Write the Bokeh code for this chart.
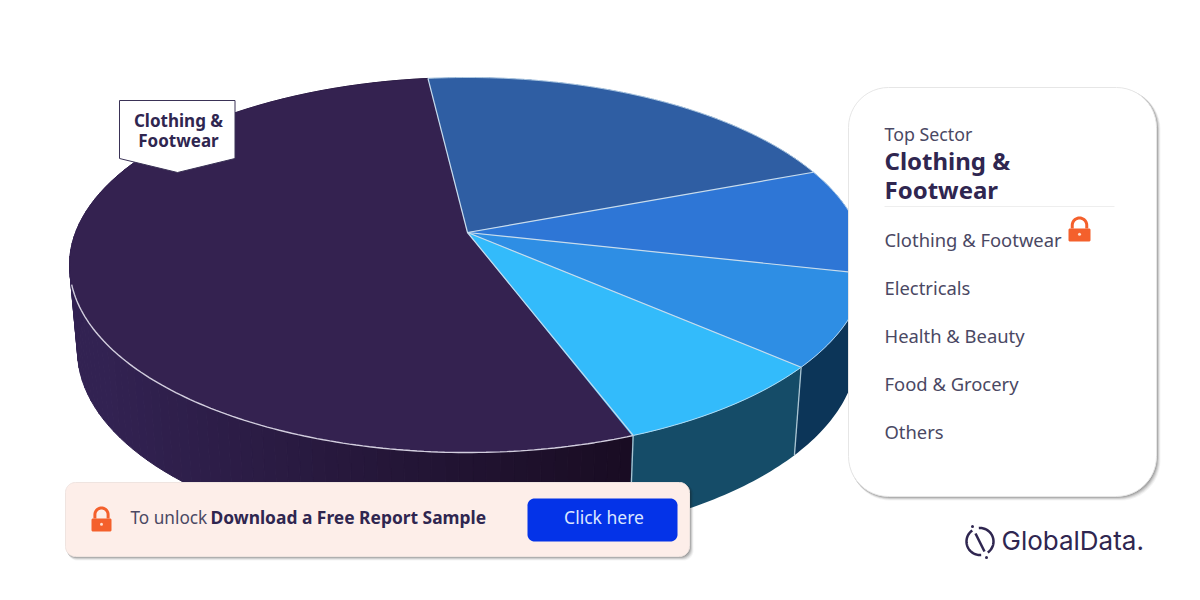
import math
from bokeh.plotting import figure
from bokeh.models import Range1d
from bokeh.core.properties import value
from bokeh.embed import file_html
from bokeh.resources import INLINE

categories = ["Clothing & Footwear", "Electricals", "Health & Beauty", "Food & Grocery", "Others"]
shares = [55.25, 18.35, 8.97, 8.44, 9.03]
top_colors = ["#342250", "#2f5ea3", "#2e76d6", "#2e8ee4", "#33bbfb"]
side_colors = [None, "#0c3558", "#0c3558", "#0c3558", "#154c68"]
start_angle = 155.4
title_small = "Top Sector"
title_lines = ["Clothing &", "Footwear"]
label_lines = ["Clothing &", "Footwear"]

FONT = "Noto Sans"
DARK = "#2f2650"
GREY = "#4a4863"
LOCK = "#f4602c"

p = figure(width=1184, height=584, x_range=Range1d(1, 1185), y_range=Range1d(584, 0),
           output_backend="svg", toolbar_location=None, min_border=0)
p.xaxis.visible = False
p.yaxis.visible = False
p.grid.visible = False
p.outline_line_color = None
p.background_fill_color = "white"
p.border_fill_color = "white"

CX, CY, RX, RY = 468.0, 264.5, 398.0, 187.5
BCY, BRX, BRY = 350.0, 390.0, 192.0
AX, AY = 468.0, 232.0


def label(x, y, s, size, color, bold=False, align="left", font=FONT):
    # y is the wanted baseline; the renderer sets alphabetic text about 0.42 em low
    p.text([x], [y - 0.42 * size], text=[s], text_font=value(font), text_font_size=f"{size}px",
           text_font_style="bold" if bold else "normal", text_align=align,
           text_baseline="alphabetic", text_color=color)


def top_pt(t):
    r = math.radians(t)
    return CX + RX * math.sin(r), CY - RY * math.cos(r)


def bot_pt(t):
    r = math.radians(t)
    return CX + BRX * math.sin(r), BCY - BRY * math.cos(r)


def arc_angles(a, b, step=1.0):
    n = max(2, int(abs(b - a) / step) + 1)
    return [a + (b - a) * i / n for i in range(n + 1)]


def mix(c1, c2, f):
    f = max(0.0, min(1.0, f))
    a = [int(c1[i:i + 2], 16) for i in (1, 3, 5)]
    b = [int(c2[i:i + 2], 16) for i in (1, 3, 5)]
    return "#%02x%02x%02x" % tuple(round(a[i] + (b[i] - a[i]) * f) for i in range(3))


def rrect(x0, y0, x1, y1, r):
    xs, ys = [], []
    for cx, cy, a0 in ((x1 - r, y0 + r, -90), (x1 - r, y1 - r, 0), (x0 + r, y1 - r, 90), (x0 + r, y0 + r, 180)):
        for i in range(13):
            a = math.radians(a0 + 90 * i / 12)
            xs.append(cx + r * math.cos(a))
            ys.append(cy + r * math.sin(a))
    return xs, ys


def card(x0, y0, x1, y1, r, fill, edge):
    for d, al in ((5, .05), (4, .07), (3, .10), (2, .14), (1, .18)):
        xs, ys = rrect(x0 + d * .4, y0 + d * .4, x1 + d * .8, y1 + d * .8, r)
        p.patch(xs, ys, fill_color="#202020", fill_alpha=al, line_color=None)
    xs, ys = rrect(x0, y0, x1, y1, r)
    p.patch(xs, ys, fill_color=fill, line_color=edge, line_width=1)


def lock(cx, top, w, h, hole):
    body = top + h * .48
    xs, ys = rrect(cx - w / 2, body, cx + w / 2, top + h, 1.5)
    p.patch(xs, ys, fill_color=LOCK, line_color=None)
    R = w * .33
    ang = [180 + 180 * i / 24 for i in range(25)]
    ax = [cx + R * math.cos(math.radians(a)) for a in ang]
    ay = [top + R + 1.5 + R * math.sin(math.radians(a)) for a in ang]
    p.line([ax[0]] + ax + [ax[-1]], [body] + ay + [body], line_color=LOCK, line_width=3)
    p.circle([cx], [body + (top + h - body) * .45], radius=1.5, fill_color=hole, line_color=None)


# pie ------------------------------------------------------------------
bounds = [start_angle]
for s in shares:
    bounds.append(bounds[-1] + s * 3.6)

for i, s in enumerate(shares):
    a0, a1 = bounds[i], bounds[i + 1]
    if side_colors[i] is None:
        angs = arc_angles(a0, a1, 2.0)
        for u, v in zip(angs[:-1], angs[1:]):
            tu, tv = top_pt(u), top_pt(v)
            bu, bv = bot_pt(u), bot_pt(v)
            f = (633 - (tu[0] + tv[0]) / 2) / 533
            col = mix("#190c22", "#322252", f)
            p.patch([tu[0], tv[0], bv[0], bu[0]], [tu[1], tv[1], bv[1], bu[1]],
                    fill_color=col, line_color=col, line_width=1)
    else:
        angs = arc_angles(a0, a1)
        tp = [top_pt(a) for a in angs]
        bp = [bot_pt(a) for a in reversed(angs)]
        p.patch([q[0] for q in tp + bp], [q[1] for q in tp + bp],
                fill_color=side_colors[i], line_color=None)

for i, s in enumerate(shares):
    a0, a1 = bounds[i], bounds[i + 1]
    pts = [top_pt(a) for a in arc_angles(a0, a1)]
    p.patch([AX] + [q[0] for q in pts], [AY] + [q[1] for q in pts],
            fill_color=top_colors[i], line_color=top_colors[i], line_width=0.5)

# rim highlights
for i in range(1, len(shares)):
    pts = [top_pt(a) for a in arc_angles(bounds[i], bounds[i + 1])]
    p.line([q[0] for q in pts], [q[1] for q in pts], line_color="#cfe6f6", line_width=1, line_alpha=.75)
pts = [top_pt(a) for a in arc_angles(start_angle, 264)]
p.line([q[0] for q in pts], [q[1] for q in pts], line_color="#d2cede", line_width=1.4)

# spokes and wall seams
for b in bounds[:-1]:
    q = top_pt(b)
    p.line([AX, q[0]], [AY, q[1]], line_color="#c9dcec", line_width=1.2)
    if 90 < b % 360 < 270:
        w = bot_pt(b)
        p.line([q[0], w[0]], [q[1], w[1]], line_color="#a9c4d2", line_width=1.3)

# callout on the pie
p.patch([120, 235.5, 235.5, 178, 120], [100, 100, 158, 172, 158], fill_color="white",
        line_color="#3a3256", line_width=1)
label(179, 127, label_lines[0], 17, DARK, bold=True, align="center")
label(179, 147, label_lines[1], 17, DARK, bold=True, align="center")

# side panel
card(849, 87, 1157, 496, 40, "white", "#e6e6e6")
label(885, 141, title_small, 17.8, GREY)
label(885, 170, title_lines[0], 24, DARK, bold=True)
label(885, 199, title_lines[1], 24, DARK, bold=True)
p.line([885, 1115], [206, 206], line_color="#eeeeee", line_width=1)
for s, y in zip(categories, [247, 295, 343, 391, 439]):
    label(885, y, s, 18.4, GREY)
lock(1080, 216, 22, 25, "#ffe0d0")

# banner
card(66, 482, 690, 556, 10, "#fdeee9", "#efe4e0")
lock(102, 506, 20, 25, "#ffe0d0")
label(131, 524, "To unlock", 17.2, GREY)
label(211, 524, "Download a Free Report Sample", 17.4, DARK, bold=True)
xs, ys = rrect(528, 498, 678, 541, 7)
p.patch(xs, ys, fill_color="#0433e8", line_color=None)
label(604.5, 524, "Click here", 17.5, "#dbe6ff", align="center")

# logo
LX, LY, LR = 980.5, 541.0, 13.5
for a0, a1 in ((-95, 55), (85, 235)):
    ang = arc_angles(a0, a1, 4)
    p.line([LX + LR * math.cos(math.radians(a)) for a in ang],
           [LY + LR * math.sin(math.radians(a)) for a in ang], line_color=DARK, line_width=2.5)
p.line([976, 985], [533, 551], line_color=DARK, line_width=2.5)
p.circle([973, 987], [526, 557], radius=1.5, fill_color=DARK, line_color=None)
label(1002, 551, "GlobalData.", 26, DARK, font="Inter")

open("out.html", "w").write(file_html(p, INLINE))
